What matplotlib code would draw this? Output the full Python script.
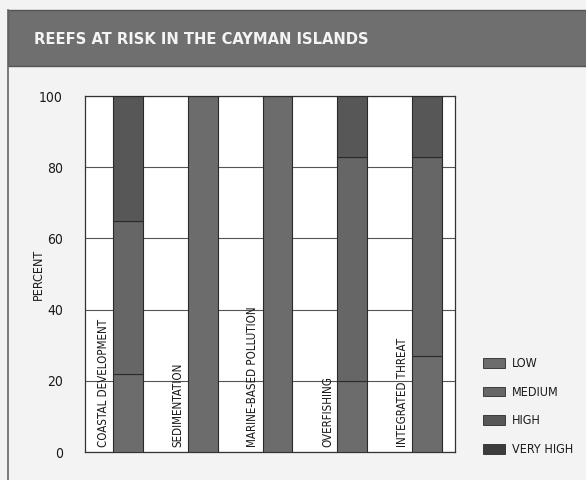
import numpy as np
import matplotlib
matplotlib.use("Agg")
import matplotlib.pyplot as plt
from matplotlib.patches import Rectangle, Patch

plt.rcParams['font.family'] = ['DejaVu Sans']
plt.rcParams['font.stretch'] = 'condensed'

# ---------------------------------------------------------------- data
categories = ["COASTAL DEVELOPMENT", "SEDIMENTATION", "MARINE-BASED POLLUTION",
              "OVERFISHING", "INTEGRATED THREAT"]
levels = ["LOW", "MEDIUM", "HIGH", "VERY HIGH"]
low = [22, 100, 100, 20, 27]
medium = [43, 0, 0, 63, 56]
high = [35, 0, 0, 17, 17]
very_high = [0, 0, 0, 0, 0]
colors = ["#6c6c6c", "#666666", "#575757", "#3c3c3c"]

fig = plt.figure(figsize=(5.86, 4.80), dpi=100)
fig.patch.set_facecolor("#f3f3f3")

# header band + frame
fig.patches.append(Rectangle((8 / 586, 1 - 66 / 480), 1, 56 / 480,
                             transform=fig.transFigure, facecolor="#6f6f6f",
                             edgecolor="#555555", lw=1, zorder=0))
fig.add_artist(plt.Line2D([8 / 586, 8 / 586], [0, 1 - 10 / 480],
                          transform=fig.transFigure, color="#666666", lw=1.2))
fig.text(34 / 586, 1 - 39 / 480, "REEFS AT RISK IN THE CAYMAN ISLANDS",
         color="#f4f4f4", fontsize=11.8, fontweight="bold", va="center", ha="left")

ax = fig.add_axes([85 / 586, 1 - 452 / 480, 370 / 586, 356 / 480])
ax.set_facecolor("white")
x = np.arange(len(categories))
bottom = np.zeros(len(categories))
for lab, vals, c in zip(levels, [low, medium, high, very_high], colors):
    ax.bar(x, vals, bottom=bottom, width=0.4, color=c, edgecolor="#2a2a2a",
           linewidth=0.8, zorder=3)
    bottom += np.array(vals)

for i, cat in enumerate(categories):
    ax.text(i - 0.33, 1.5, cat, rotation=90, ha="center", va="bottom",
            fontsize=8.3, color="#1a1a1a", zorder=4)

ax.set_xlim(-0.575, 4.375)
ax.set_ylim(0, 100)
ax.set_yticks([0, 20, 40, 60, 80, 100])
ax.set_xticks([])
ax.tick_params(axis="y", length=0, pad=16, labelsize=10, labelcolor="#1a1a1a")
ax.grid(True, axis="y", color="#555555", lw=0.8, zorder=0)
for s in ax.spines.values():
    s.set_color("#333333")
    s.set_linewidth(0.9)
ax.set_ylabel("PERCENT", fontsize=9, color="#1a1a1a")
ax.yaxis.set_label_coords(-0.108, 0.5)

handles = [Patch(facecolor=c, edgecolor="#2a2a2a", lw=0.6) for c in colors]
fig.legend(handles, levels, loc="upper left",
           bbox_to_anchor=(472 / 586, 1 - 346 / 480), frameon=False,
           fontsize=9, handlelength=1.7, handleheight=0.8, labelspacing=1.25,
           handletextpad=0.6, labelcolor="#1a1a1a")

plt.savefig("out.png", dpi=100, facecolor=fig.get_facecolor())
